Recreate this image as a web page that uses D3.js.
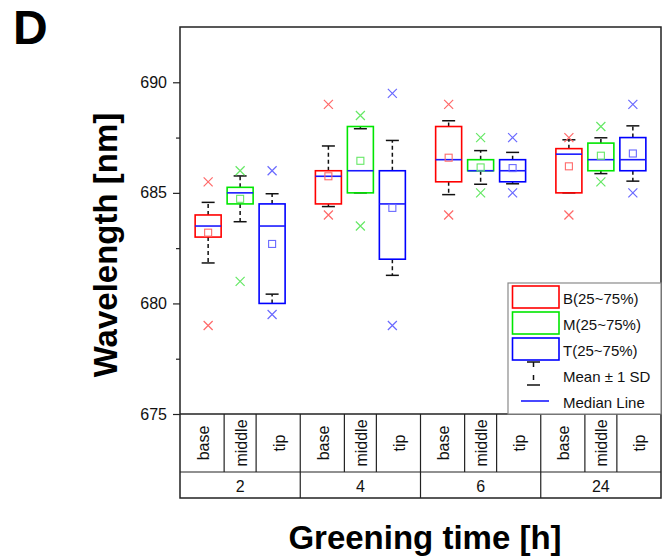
<!DOCTYPE html>
<html>
<head>
<meta charset="utf-8">
<script src="https://cdn.jsdelivr.net/npm/d3@7"></script>
<style>
  html, body { margin: 0; padding: 0; background: #fff; }
  svg { display: block; font-family: "Liberation Sans", Arial, sans-serif; }
</style>
</head>
<body>
<svg id="chart" width="668" height="560"></svg>
<script>
// ---------- data ----------
const groups    = ['2', '4', '6', '24'];          // greening time [h]
const positions = ['base', 'middle', 'tip'];
const seriesKey = ['B', 'M', 'T'];

// per group, order base / middle / tip
const q1     = [683.0, 684.5, 680.0,   684.5, 685.0, 682.0,   685.5, 686.0, 685.5,   685.0, 686.0, 686.0];
const median = [683.5, 685.0, 683.5,   685.75, 686.0, 684.5,  686.5, 686.0, 686.0,   686.75, 686.5, 686.5];
const q3     = [684.0, 685.25, 684.5,  686.0, 688.0, 686.0,   688.0, 686.5, 686.5,   687.0, 687.25, 687.5];
const mean   = [683.2, 684.73, 682.69, 685.75, 686.45, 684.32, 686.59, 686.15, 686.12, 686.2, 686.68, 686.78];
const sd     = [1.37, 1.035, 2.27,     1.37, 1.45, 3.05,      1.67, 0.76, 0.71,      1.2, 0.81, 1.25];
const minV   = [679.0, 681.0, 679.5,   684.0, 683.5, 679.0,   684.0, 685.0, 685.0,   684.0, 685.5, 685.0];
const maxV   = [685.5, 686.0, 686.0,   689.0, 688.5, 689.5,   689.0, 687.5, 687.5,   687.5, 688.0, 689.0];

const yMajor = [675, 680, 685, 690];
const yMinor = [677.5, 682.5, 687.5];

const legendLabels = ['B(25~75%)', 'M(25~75%)', 'T(25~75%)', 'Mean \u00b1 1 SD', 'Median Line'];

// ---------- styles ----------
const boxColor   = ['#ff0000', '#00e600', '#0000ff'];
const lightColor = ['#ff6a6a', '#66e866', '#6a6aff'];
const medianColor = '#1a1aff';
const frameColor = '#222';

const svg = d3.select('#chart');

const pLeft = 180, pRight = 661, pTop = 27, pBottom = 414;
const row1 = 472, row2 = 498;

const y = d3.scaleLinear().domain([675, 692.5]).range([pBottom, pTop]);
const xGroup = d3.scaleBand().domain(groups).range([pLeft, pRight]).padding(0);
const xPos = d3.scalePoint().domain(positions).range([0, xGroup.bandwidth()]).padding(0.88);
const step = xPos.step();
const boxW = 26, capW = 13;

// flatten rows
const rows = [];
groups.forEach((g, gi) => positions.forEach((p, pi) => {
  const i = gi * 3 + pi;
  rows.push({
    g, p, pi,
    cx: xGroup(g) + xPos(p),
    q1: q1[i], med: median[i], q3: q3[i],
    mean: mean[i], lo: mean[i] - sd[i], hi: mean[i] + sd[i],
    min: minV[i], max: maxV[i]
  });
}));

// ---------- D label ----------
svg.append('text')
  .attr('x', 13).attr('y', 44)
  .attr('font-size', 48).attr('font-weight', 'bold')
  .text('D');

// ---------- y axis ----------
const yAxis = svg.append('g')
  .attr('transform', `translate(${pLeft},0)`)
  .call(d3.axisLeft(y).tickValues(yMajor).tickSize(7).tickPadding(6).tickFormat(d3.format('d')));
yAxis.select('.domain').remove();
yAxis.selectAll('.tick line').attr('stroke', frameColor).attr('stroke-width', 1.2);
yAxis.selectAll('.tick text').attr('font-size', 16).attr('fill', '#111')
  .attr('font-family', '"Liberation Sans", Arial, sans-serif');

const yMin = svg.append('g')
  .attr('transform', `translate(${pLeft},0)`)
  .call(d3.axisLeft(y).tickValues(yMinor).tickSize(4).tickFormat(''));
yMin.select('.domain').remove();
yMin.selectAll('.tick line').attr('stroke', frameColor).attr('stroke-width', 1.2);

// ---------- frame + table ----------
const frame = svg.append('g').attr('fill', 'none').attr('stroke', frameColor).attr('stroke-width', 1.5);
frame.append('rect').attr('x', pLeft).attr('y', pTop).attr('width', pRight - pLeft).attr('height', row2 - pTop);
frame.append('line').attr('x1', pLeft).attr('x2', pRight).attr('y1', pBottom).attr('y2', pBottom);
frame.append('line').attr('x1', pLeft).attr('x2', pRight).attr('y1', row1).attr('y2', row1).attr('stroke-width', 1.2);

// group separators
frame.selectAll('line.gsep')
  .data(groups.slice(1))
  .join('line')
  .attr('class', 'gsep')
  .attr('x1', d => xGroup(d)).attr('x2', d => xGroup(d))
  .attr('y1', pBottom).attr('y2', row2)
  .attr('stroke-width', 1.2);

// position separators inside each group (midway between positions)
const psep = [];
groups.forEach(g => {
  psep.push(xGroup(g) + xPos('base') + step / 2);
  psep.push(xGroup(g) + xPos('middle') + step / 2);
});
frame.selectAll('line.psep')
  .data(psep)
  .join('line')
  .attr('class', 'psep')
  .attr('x1', d => d).attr('x2', d => d)
  .attr('y1', pBottom).attr('y2', row1)
  .attr('stroke-width', 1.2);

// centre of each position cell in the table
function cellCenter(g, p) {
  const x0 = xGroup(g), bw = xGroup.bandwidth();
  if (p === 'base') return x0 + (xPos('base') + step / 2) / 2;
  if (p === 'middle') return x0 + xPos('middle');
  return x0 + (xPos('tip') - step / 2 + bw) / 2;
}

svg.append('g').selectAll('text')
  .data(rows)
  .join('text')
  .attr('transform', d => `translate(${cellCenter(d.g, d.p) + 1},${(pBottom + row1) / 2}) rotate(-90)`)
  .attr('text-anchor', 'middle')
  .attr('dominant-baseline', 'central')
  .attr('font-size', 16)
  .attr('fill', '#111')
  .text(d => d.p);

// group labels
svg.append('g').selectAll('text')
  .data(groups)
  .join('text')
  .attr('x', d => xGroup(d) + xGroup.bandwidth() / 2)
  .attr('y', (row1 + row2) / 2 + 1)
  .attr('text-anchor', 'middle')
  .attr('dominant-baseline', 'central')
  .attr('font-size', 16)
  .attr('fill', '#111')
  .text(d => d);

// ---------- boxes ----------
const marks = svg.append('g');

// whiskers (mean ± 1 SD), dashed
const whisk = marks.selectAll('g.whisk')
  .data(rows)
  .join('g')
  .attr('class', 'whisk')
  .attr('stroke', '#111')
  .attr('stroke-width', 1.5);
whisk.append('line')
  .attr('x1', d => d.cx).attr('x2', d => d.cx)
  .attr('y1', d => y(d.q3)).attr('y2', d => y(d.hi))
  .attr('stroke-dasharray', '4,3');
whisk.append('line')
  .attr('x1', d => d.cx).attr('x2', d => d.cx)
  .attr('y1', d => y(d.q1)).attr('y2', d => y(d.lo))
  .attr('stroke-dasharray', '4,3');
whisk.append('line')
  .attr('x1', d => d.cx - capW / 2).attr('x2', d => d.cx + capW / 2)
  .attr('y1', d => y(d.hi)).attr('y2', d => y(d.hi));
whisk.append('line')
  .attr('x1', d => d.cx - capW / 2).attr('x2', d => d.cx + capW / 2)
  .attr('y1', d => y(d.lo)).attr('y2', d => y(d.lo));

// IQR box
marks.selectAll('rect.box')
  .data(rows)
  .join('rect')
  .attr('class', 'box')
  .attr('x', d => d.cx - boxW / 2)
  .attr('y', d => y(d.q3))
  .attr('width', boxW)
  .attr('height', d => y(d.q1) - y(d.q3))
  .attr('fill', 'none')
  .attr('stroke', d => boxColor[d.pi])
  .attr('stroke-width', 1.6);

// median
marks.selectAll('line.median')
  .data(rows)
  .join('line')
  .attr('class', 'median')
  .attr('x1', d => d.cx - boxW / 2).attr('x2', d => d.cx + boxW / 2)
  .attr('y1', d => y(d.med)).attr('y2', d => y(d.med))
  .attr('stroke', medianColor)
  .attr('stroke-width', 1.6);

// mean square
marks.selectAll('rect.mean')
  .data(rows)
  .join('rect')
  .attr('class', 'mean')
  .attr('x', d => d.cx - 3.5).attr('y', d => y(d.mean) - 3.5)
  .attr('width', 7).attr('height', 7)
  .attr('fill', 'none')
  .attr('stroke', d => lightColor[d.pi])
  .attr('stroke-width', 1.1);

// min / max crosses
const crosses = [];
rows.forEach(d => { crosses.push({ cx: d.cx, v: d.min, pi: d.pi }); crosses.push({ cx: d.cx, v: d.max, pi: d.pi }); });
const cr = 4.5;
marks.selectAll('path.cross')
  .data(crosses)
  .join('path')
  .attr('class', 'cross')
  .attr('d', d => {
    const cy = y(d.v);
    return `M${d.cx - cr},${cy - cr}L${d.cx + cr},${cy + cr}M${d.cx - cr},${cy + cr}L${d.cx + cr},${cy - cr}`;
  })
  .attr('fill', 'none')
  .attr('stroke', d => lightColor[d.pi])
  .attr('stroke-width', 1.2);

// ---------- legend ----------
const lg = svg.append('g');
lg.append('rect')
  .attr('x', 508).attr('y', 283)
  .attr('width', pRight - 508).attr('height', pBottom - 283)
  .attr('fill', '#fff').attr('stroke', '#8a8a8a').attr('stroke-width', 1.2);

const lgY = [297, 323, 349, 375, 401];
seriesKey.forEach((k, i) => {
  lg.append('rect')
    .attr('x', 512.5).attr('y', lgY[i] - 11)
    .attr('width', 46.5).attr('height', 22)
    .attr('fill', 'none').attr('stroke', boxColor[i]).attr('stroke-width', 1.6);
});
// mean ± SD symbol
const sx = 533.5;
lg.append('line').attr('x1', sx - 6.5).attr('x2', sx + 6.5).attr('y1', 362).attr('y2', 362)
  .attr('stroke', '#111').attr('stroke-width', 1.5);
lg.append('line').attr('x1', sx - 6.5).attr('x2', sx + 6.5).attr('y1', 385).attr('y2', 385)
  .attr('stroke', '#111').attr('stroke-width', 1.5);
lg.append('line').attr('x1', sx).attr('x2', sx).attr('y1', 362).attr('y2', 385)
  .attr('stroke', '#111').attr('stroke-width', 1.5).attr('stroke-dasharray', '5,8');
// median line symbol
lg.append('line').attr('x1', 521).attr('x2', 549).attr('y1', 401).attr('y2', 401)
  .attr('stroke', medianColor).attr('stroke-width', 1.6);

lg.selectAll('text')
  .data(legendLabels)
  .join('text')
  .attr('x', 563)
  .attr('y', (d, i) => lgY[i] + 1)
  .attr('dominant-baseline', 'central')
  .attr('font-size', 15)
  .attr('fill', '#111')
  .text(d => d);

// ---------- axis titles ----------
svg.append('text')
  .attr('transform', 'translate(117,245) rotate(-90)')
  .attr('text-anchor', 'middle')
  .attr('font-size', 33).attr('font-weight', 'bold')
  .text('Wavelength [nm]');

svg.append('text')
  .attr('x', 425).attr('y', 549)
  .attr('text-anchor', 'middle')
  .attr('font-size', 33).attr('font-weight', 'bold')
  .text('Greening time [h]');
</script>
</body>
</html>
